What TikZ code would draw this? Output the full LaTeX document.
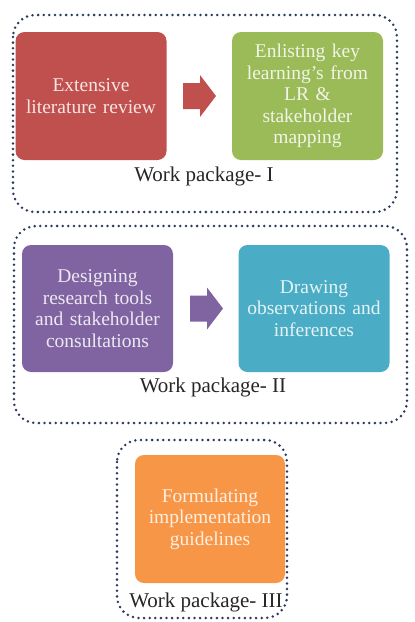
\documentclass[tikz,border=0pt]{standalone}
\usepackage{fontspec}
\setmainfont{Liberation Serif}
\definecolor{cred}{HTML}{C0504D}
\definecolor{cgreen}{HTML}{9BBB59}
\definecolor{cpurple}{HTML}{8064A2}
\definecolor{cteal}{HTML}{4BACC6}
\definecolor{corange}{HTML}{F79646}
\definecolor{cdot}{HTML}{2B3A5C}
\begin{document}
\begin{tikzpicture}[x=1pt,y=-1pt,
  stage/.style={rectangle, rounded corners=9pt, minimum width=151pt, minimum height=128pt,
    text width=148pt, align=center, inner sep=0pt,
    font=\fontsize{19.5}{21.5}\selectfont},
  container/.style={draw=cdot, line width=2.8pt, line cap=round, dash pattern=on 0pt off 5.6pt,
    rounded corners=22pt},
  wplabel/.style={font=\fontsize{21}{22}\selectfont, text=black!85}]
\useasboundingbox (0,0) rectangle (415,622);
% containers
\draw[container] (13,15) rectangle (397,212);
\draw[container] (14,226) rectangle (407,423);
\draw[container] (117,440) rectangle (287,618);
% work package 1
\node[stage, fill=cred, text=cred!15] (lr) at (91,96) {Extensive\\literature review};
\node[stage, fill=cgreen, text=cgreen!15] (kl) at (307.5,96) {Enlisting key\\learning's from\\LR \&\\stakeholder\\mapping};
\coordinate (a1) at (183,96);
\fill[cred] (a1) ++(0,-13) -- ++(17,0) -- ++(0,-8) -- ++(16,21) -- ++(-16,21) -- ++(0,-8) -- ++(-17,0) -- cycle;
\node[wplabel] (wp1) at (204,176) {Work package- I};
% work package 2
\node[stage, fill=cpurple, text=cpurple!15, minimum height=127pt] (dr) at (97.5,308.5) {Designing\\research tools\\and stakeholder\\consultations};
\node[stage, fill=cteal, text=cteal!15, minimum height=127pt] (ob) at (314,308.5) {Drawing\\observations and\\inferences};
\coordinate (a2) at (190,308.5);
\fill[cpurple] (a2) ++(0,-13) -- ++(17,0) -- ++(0,-8) -- ++(16,21) -- ++(-16,21) -- ++(0,-8) -- ++(-17,0) -- cycle;
\node[wplabel] (wp2) at (213,387) {Work package- II};
% work package 3
\node[stage, fill=corange, text=corange!15, minimum width=150pt] (fg) at (210,519) {Formulating\\implementation\\guidelines};
\node[wplabel] (wp3) at (206,602) {Work package- III};
\end{tikzpicture}
\end{document}
